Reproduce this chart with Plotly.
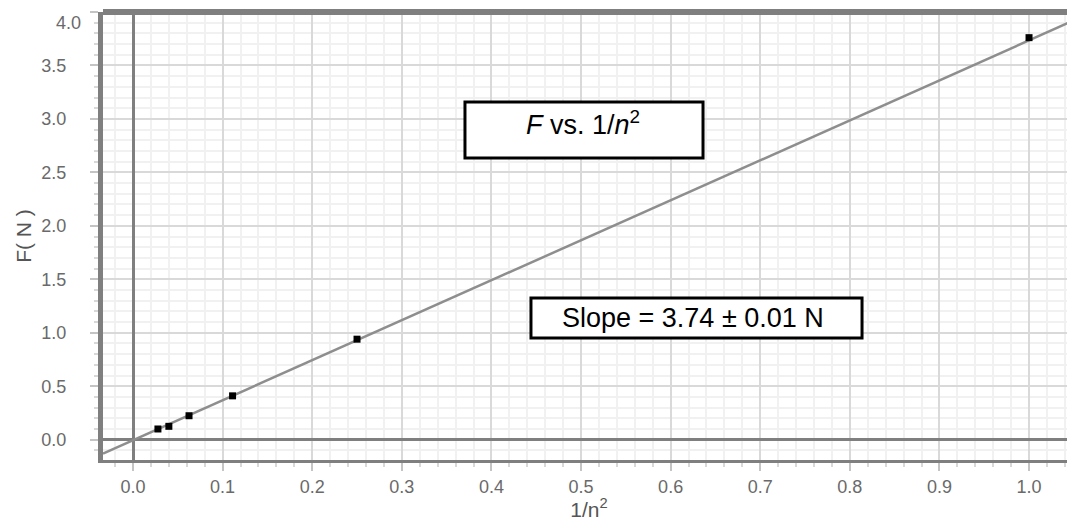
import plotly.graph_objects as go
import numpy as np

# ---- data ----
n_values = [1, 2, 3, 4, 5, 6]
inv_n2 = [1.0, 0.25, 0.1111, 0.0625, 0.04, 0.0278]
force_N = [3.76, 0.94, 0.41, 0.224, 0.125, 0.10]
fit_slope = 3.74
fit_intercept = -0.005
x_range = [-0.0335, 1.0513]
y_range = [-0.19, 4.0]
x_ticks = [0.0, 0.1, 0.2, 0.3, 0.4, 0.5, 0.6, 0.7, 0.8, 0.9, 1.0]
y_ticks = [0.0, 0.5, 1.0, 1.5, 2.0, 2.5, 3.0, 3.5, 4.0]
y_ticktext = ["0.0", "0.5", "1.0", "1.5", "2.0", "2.5", "3.0", "3.5", ""]
top_label = "4.0"

x_fit = np.array(x_range)
y_fit = fit_slope * x_fit + fit_intercept

FONT = "Liberation Sans, Arial, sans-serif"
FRAME = "#7f7f7f"
TICKFONT = dict(family=FONT, size=18, color="#6a6a6a")

fig = go.Figure()
fig.add_trace(go.Scatter(x=x_fit, y=y_fit, mode="lines",
                         line=dict(color="#8e8e8e", width=2.5),
                         hoverinfo="skip", showlegend=False))
fig.add_trace(go.Scatter(x=inv_n2, y=force_N, mode="markers",
                         marker=dict(symbol="square", size=7, color="black"),
                         showlegend=False))

axis_common = dict(
    showgrid=True, gridcolor="#d9d9d9", gridwidth=2,
    zeroline=True, zerolinecolor=FRAME, zerolinewidth=3,
    showline=True, linecolor=FRAME,
    ticks="outside", ticklen=8, tickwidth=2, tickcolor="#c4c4c4",
    tickfont=TICKFONT,
    tickformat=".1f", automargin=False,
)

fig.update_layout(
    width=1067, height=513,
    margin=dict(l=95, r=0, t=4, b=61),
    plot_bgcolor="white", paper_bgcolor="white",
    xaxis=dict(axis_common, range=x_range, tickvals=x_ticks, linewidth=3,
               minor=dict(dtick=0.02, showgrid=True, gridcolor="#f1f1f1", gridwidth=2,
                          ticks="outside", ticklen=4, tickcolor="#d8d8d8"),
               title=dict(text="1/n<sup>2</sup>", font=dict(family=FONT, size=21, color="#555555"),
                          standoff=2),
               ticklabelstandoff=0),
    yaxis=dict(axis_common, range=y_range, tickvals=y_ticks, ticktext=y_ticktext,
               linewidth=5,
               minor=dict(dtick=0.1, showgrid=True, gridcolor="#f1f1f1", gridwidth=2,
                          ticks="outside", ticklen=4, tickcolor="#d8d8d8"),
               title=dict(text="F( N )", font=dict(family=FONT, size=21, color="#555555"),
                          standoff=6),
               ticklabelstandoff=20),
    shapes=[
        dict(type="line", xref="paper", yref="paper", x0=0, x1=1, y0=1, y1=1,
             line=dict(color=FRAME, width=6)),
        dict(type="rect", xref="paper", yref="paper", x0=0.3724, x1=0.6173,
             y0=0.6741, y1=0.7991, line=dict(color="black", width=3), fillcolor="white"),
        dict(type="rect", xref="paper", yref="paper", x0=0.4403, x1=0.7809,
             y0=0.2723, y1=0.3616, line=dict(color="black", width=3), fillcolor="white"),
    ],
    annotations=[
        dict(xref="paper", yref="paper", x=0.4938, y=0.7522, showarrow=False,
             xanchor="center", yanchor="middle",
             text="<i>F</i> vs. 1/<i>n</i><sup>2</sup>",
             font=dict(family=FONT, size=27, color="black")),
        dict(xref="paper", yref="paper", x=0.607, y=0.317, showarrow=False,
             xanchor="center", yanchor="middle",
             text="Slope = 3.74 ± 0.01 N",
             font=dict(family=FONT, size=27, color="black")),
        dict(xref="paper", yref="paper", x=-0.0206, y=0.975, showarrow=False,
             xanchor="right", yanchor="middle", text=top_label, font=TICKFONT),
    ],
)

fig.write_html("out.html")
